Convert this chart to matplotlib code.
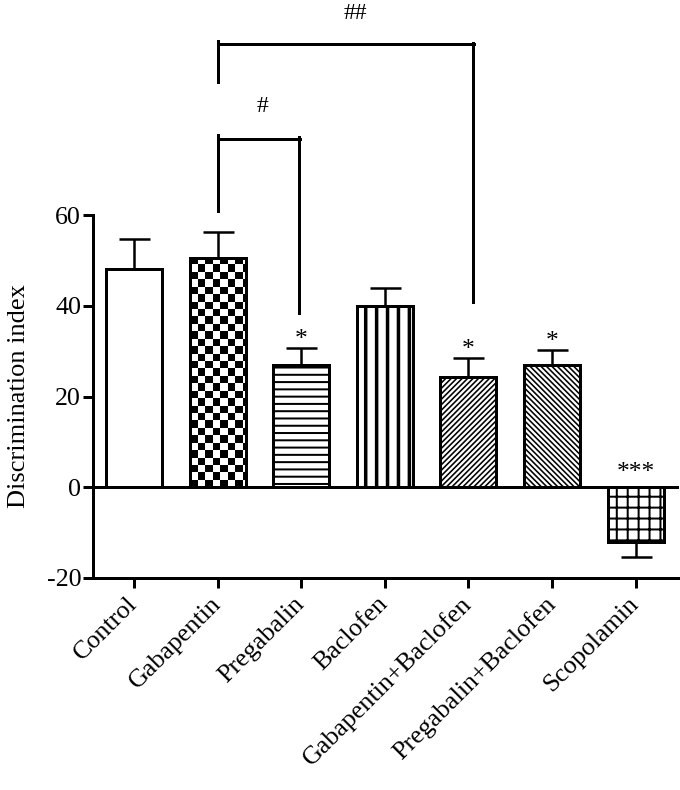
import numpy as np
import matplotlib
matplotlib.use('Agg')
import matplotlib.pyplot as plt

groups = ["Control", "Gabapentin", "Pregabalin", "Baclofen",
          "Gabapentin+Baclofen", "Pregabalin+Baclofen", "Scopolamin"]
means = [48.1, 50.5, 26.9, 40.0, 24.3, 26.9, -12.1]
err_low = [0, 0, 0, 0, 0, 0, 3.3]
err_high = [6.6, 5.8, 3.8, 3.9, 4.2, 3.3, 0]
hatches = ["", None, "---", "||", "////////", "\\" * 8, "++"]
hatch_widths = [0, 0, 2.0, 3.5, 1.6, 1.6, 2.0]
stars = ["", "", "*", "", "*", "*", "***"]

# significance brackets: (x left, x right, y top, left leg end, right leg end)
brackets = [(1.0, 4.05, 97.6, 89.4, 40.8),
            (1.0, 1.97, 76.8, 60.9, 38.4)]
bracket_labels = ["##", "#"]
bracket_label_pos = [(2.65, 104.5), (1.54, 84.0)]

DPI = 131
px = 72.0 / DPI  # points per pixel

plt.rcParams['font.family'] = ['Liberation Serif', 'DejaVu Serif']
plt.rcParams['axes.unicode_minus'] = False
plt.rcParams['hatch.linewidth'] = 2.0 * px

fig = plt.figure(figsize=(680 / DPI, 790 / DPI), dpi=DPI)
ax = fig.add_axes([93 / 680, 1 - 578 / 790, (679 - 93) / 680, (578 - 215) / 790])

x = np.arange(len(groups))
ax.set_xlim(-0.49, 6.52)
ax.set_ylim(-20, 60)

ax.errorbar(x, means, yerr=[err_low, err_high], fmt='none', ecolor='black',
            elinewidth=2.5 * px, capsize=15.5 * px, capthick=2.5 * px, zorder=1)

bars = ax.bar(x, means, width=0.67, color='white', edgecolor='black',
              linewidth=3 * px, zorder=3)
for b, h, hw in zip(bars, hatches, hatch_widths):
    if h:
        b.set_hatch(h)
        if hasattr(b, 'set_hatch_linewidth'):
            b.set_hatch_linewidth(hw * px)

# checkerboard fill for Gabapentin
gb = bars[1]
x0, x1 = gb.get_x(), gb.get_x() + gb.get_width()
y0, y1 = 0, gb.get_height()
p0 = ax.transData.transform((x0, y0))
p1 = ax.transData.transform((x1, y1))
cell = 7.4
nx = int(np.ceil((p1[0] - p0[0]) / cell))
ny = int(np.ceil((p1[1] - p0[1]) / cell))
board = (np.add.outer(np.arange(ny), np.arange(nx)) % 2).astype(float)
ext_x1 = x0 + nx * cell / (p1[0] - p0[0]) * (x1 - x0)
ext_y1 = y1 - ny * cell / (p1[1] - p0[1]) * (y1 - y0)
img = ax.imshow(board, cmap='gray', extent=(x0, ext_x1, ext_y1, y1),
                interpolation='nearest', aspect='auto', zorder=2.5, origin='upper')
img.set_clip_path(gb)
gb.set_facecolor('none')
ax.set_xlim(-0.49, 6.52)
ax.set_ylim(-20, 60)

ax.axhline(0, color='black', linewidth=3 * px, zorder=4)

for xi, m, lo, hi, s in zip(x, means, err_low, err_high, stars):
    if not s:
        continue
    if m >= 0:
        ax.annotate(s, (xi, m + hi), xytext=(0, -3 * px), textcoords='offset points',
                    ha='center', va='bottom', fontsize=14)
    else:
        ax.annotate(s, (xi, 0), xytext=(0, 3 * px), textcoords='offset points',
                    ha='center', va='bottom', fontsize=14)

for (xl, xr, yt, yl, yr) in brackets:
    ax.plot([xl, xl], [yt + 0.8, yl], color='black', linewidth=3 * px, clip_on=False)
    ax.plot([xl + 0.04, xr + 0.02], [yt, yt], color='black', linewidth=3 * px, clip_on=False)
    ax.plot([xr, xr], [yt + 0.4, yr], color='black', linewidth=3 * px, clip_on=False)
for lab, (lx, ly) in zip(bracket_labels, bracket_label_pos):
    ax.text(lx, ly, lab, ha='center', va='center', fontsize=13, clip_on=False,
            fontweight='light')

for sp in ['top', 'right']:
    ax.spines[sp].set_visible(False)
ax.spines['left'].set_linewidth(3 * px)
ax.spines['bottom'].set_linewidth(3 * px)

ax.set_yticks([-20, 0, 20, 40, 60])
ax.set_xticks(x)
ax.set_xticklabels(groups, rotation=45, ha='right', va='center',
                   rotation_mode='anchor', fontsize=14.7)
ax.tick_params(axis='both', width=3 * px, length=10 * px, labelsize=14.3,
               direction='out', pad=1)
ax.tick_params(axis='x', pad=7)
ax.set_ylabel("Discrimination index", fontsize=14.5, labelpad=9)

fig.savefig('out.png', dpi=DPI)
